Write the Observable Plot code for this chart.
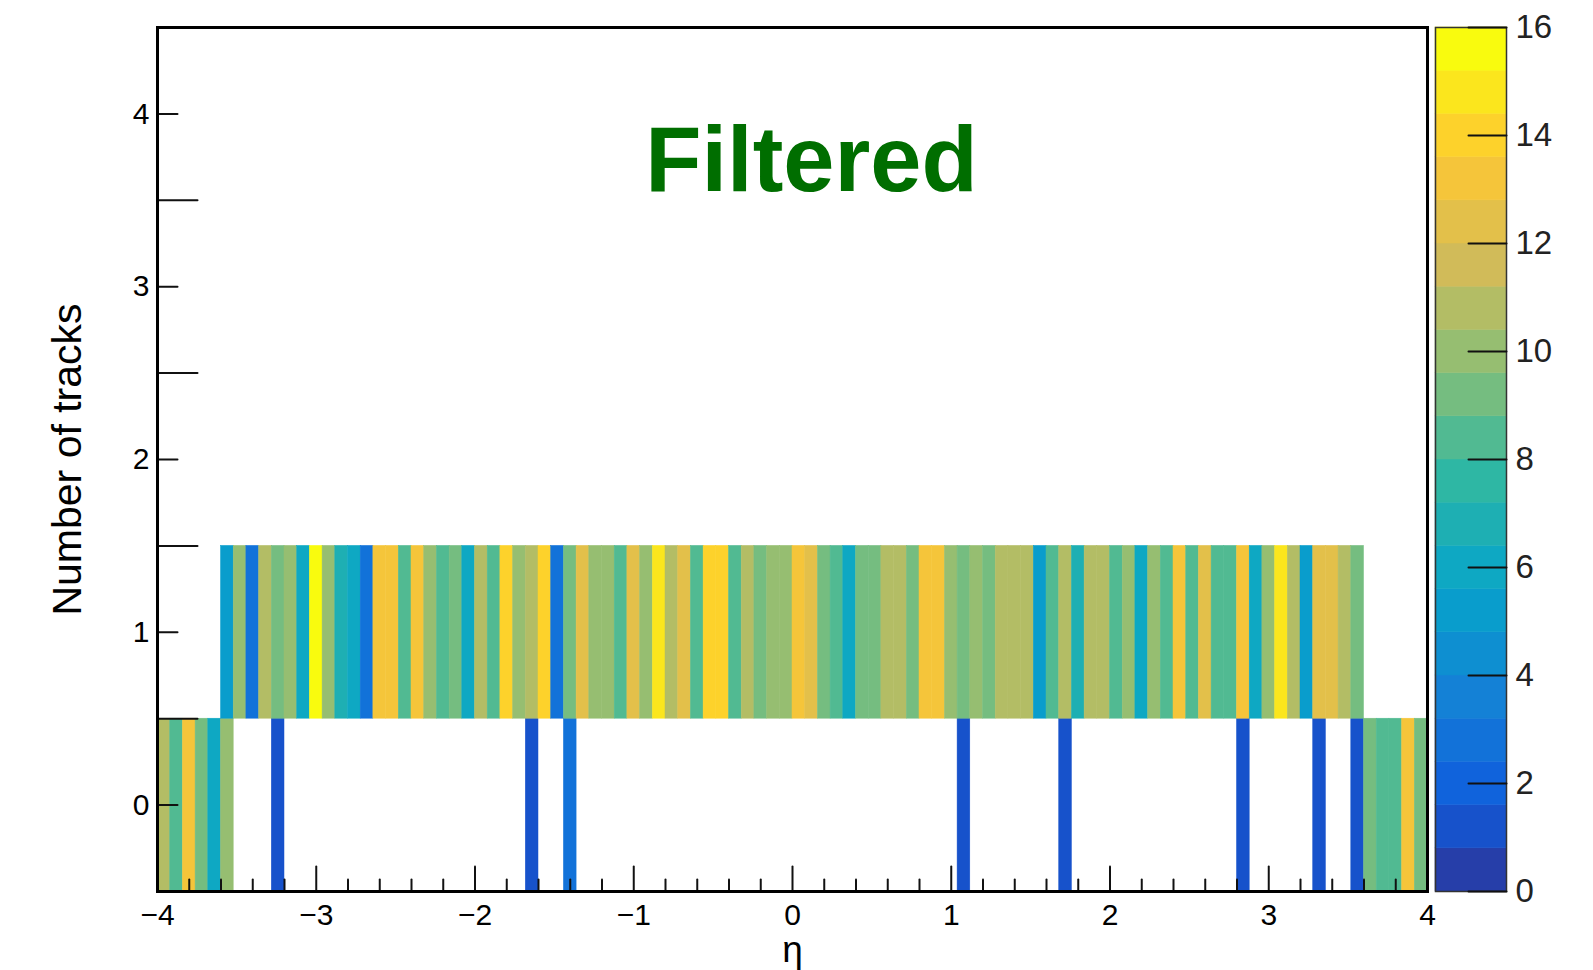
<!DOCTYPE html>
<html>
<head>
<meta charset="utf-8">
<script src="https://cdn.jsdelivr.net/npm/d3@7"></script>
<script src="https://cdn.jsdelivr.net/npm/@observablehq/plot@0.6"></script>
<style>
  html, body { margin: 0; padding: 0; background: #fff; }
  #chart { position: relative; width: 1593px; height: 970px; }
  #chart svg { position: absolute; top: 0; }
</style>
</head>
<body>
<div id="chart"></div>
<script>
// η binning of the 2D histogram: 100 bins over [-4, 4]
const etaMin = -4, etaMax = 4, etaBins = 100;

// Entries per η bin, row "0 tracks"
const countsZeroTracks = [
  11, 8, 13, 9, 6, 10, 0, 0, 0, 1,
   0, 0, 0, 0, 0, 0, 0, 0, 0, 0,
   0, 0, 0, 0, 0, 0, 0, 0, 0, 1,
   0, 0, 3, 0, 0, 0, 0, 0, 0, 0,
   0, 0, 0, 0, 0, 0, 0, 0, 0, 0,
   0, 0, 0, 0, 0, 0, 0, 0, 0, 0,
   0, 0, 0, 1, 0, 0, 0, 0, 0, 0,
   0, 1, 0, 0, 0, 0, 0, 0, 0, 0,
   0, 0, 0, 0, 0, 1, 0, 0, 0, 0,
   0, 1, 0, 0, 1, 9, 8, 8, 13, 9
];

// Entries per η bin, row "1 track"
const countsOneTrack = [
   0, 0, 0, 0, 0, 5, 10, 3, 11, 9,
  10, 6, 16, 10, 7, 6, 3, 13, 13, 8,
  13, 10, 8, 9, 6, 11, 8, 14, 10, 11,
  14, 3, 9, 12, 10, 10, 8, 12, 10, 15,
  11, 12, 8, 14, 14, 8, 11, 9, 10, 10,
  13, 12, 9, 8, 6, 9, 9, 11, 11, 9,
  13, 13, 10, 9, 10, 9, 11, 11, 11, 5,
   8, 11, 7, 11, 11, 8, 10, 6, 10, 8,
  13, 8, 12, 8, 8, 13, 6, 10, 15, 11,
   5, 12, 12, 11, 9, 0, 0, 0, 0, 0
];

// Axis ticks and labels
const xTickLabels = [-4, -3, -2, -1, 0, 1, 2, 3, 4];
const yTickLabels = [0, 1, 2, 3, 4];
const yHalfTicks = [0.5, 1.5, 2.5, 3.5];
const zTickLabels = [0, 2, 4, 6, 8, 10, 12, 14, 16];
const zMax = 16, nContours = 20;

// Text
const titleText = "Filtered";
const xTitle = "η";
const yTitle = "Number of tracks";

// kBird palette stops (ROOT), sampled once per contour band
const birdStops = ["#352a87", "#0f5cdd", "#1481d6", "#06a4ca", "#2eb7a4",
                   "#87bf77", "#d1bb59", "#fec832", "#f9fb0e"];
const bird = d3.piecewise(d3.interpolateRgb, birdStops);
const bandColors = d3.range(nContours).map(i => bird((i + 0.99) / nContours));
const levels = d3.range(nContours + 1).map(i => (zMax * i) / nContours);
const colorScale = {type: "threshold", domain: levels.slice(1, -1), range: bandColors};

// Histogram cells (zero bins are not drawn)
const binWidth = (etaMax - etaMin) / etaBins;
const cells = [];
[countsZeroTracks, countsOneTrack].forEach((counts, n) => {
  counts.forEach((c, i) => {
    if (c > 0) cells.push({eta0: etaMin + i * binWidth, eta1: etaMin + (i + 1) * binWidth, n, count: c});
  });
});
const xMinorTicks = d3.range(-40, 41, 2).map(v => v / 10).filter(v => !Number.isInteger(v));
const bands = d3.range(nContours).map(i => ({lo: levels[i], hi: levels[i + 1]}));

const FONT = "'Liberation Sans', Arial, Helvetica, sans-serif";
const tickShape = {draw(ctx, l) { ctx.moveTo(0, 0); ctx.lineTo(0, -l); }};
const minusFormat = d => (d < 0 ? "\u2212" + (-d) : String(d));
const tickStyle = {anchor: "start", shape: tickShape, stroke: "#111", strokeWidth: 2};

const main = Plot.plot({
  width: 1593, height: 970,
  marginLeft: 157, marginRight: 166, marginTop: 27, marginBottom: 79,
  x: {domain: [etaMin, etaMax]},
  y: {domain: [-0.5, 4.5]},
  color: colorScale,
  style: {fontFamily: FONT, background: "transparent", color: "#000"},
  marks: [
    Plot.rect(cells, {x1: "eta0", x2: "eta1", y1: d => d.n - 0.5, y2: d => d.n + 0.5,
                      fill: "count", stroke: "count", strokeWidth: 0.5}),
    Plot.vector(xMinorTicks, {x: d => d, frameAnchor: "bottom", rotate: 0, length: 12, ...tickStyle}),
    Plot.vector(xTickLabels, {x: d => d, frameAnchor: "bottom", rotate: 0, length: 25, ...tickStyle}),
    Plot.vector(yTickLabels, {y: d => d, frameAnchor: "left", rotate: 90, length: 20, ...tickStyle}),
    Plot.vector(yHalfTicks, {y: d => d, frameAnchor: "left", rotate: 90, length: 40, ...tickStyle}),
    Plot.axisX({ticks: xTickLabels, tickSize: 0, tickPadding: 12, fontSize: 30, tickFormat: minusFormat, label: null}),
    Plot.axisY({ticks: yTickLabels, tickSize: 0, tickPadding: 8, fontSize: 30, tickFormat: minusFormat, label: null}),
    Plot.frame({stroke: "#000", strokeWidth: 3}),
    Plot.text([yTitle], {frameAnchor: "left", textAnchor: "middle", dx: -77, rotate: -90,
                         lineAnchor: "bottom", fontSize: 41}),
    Plot.text([xTitle], {frameAnchor: "bottom", textAnchor: "middle", dy: 70, lineAnchor: "bottom", fontSize: 37}),
    Plot.text([titleText], {frameAnchor: "top", dx: 19, dy: 163, lineAnchor: "bottom",
                            fontSize: 92, fontWeight: "bold", fill: "#006e00"})
  ]
});
main.style.left = "0px";

const bar = Plot.plot({
  width: 161, height: 970,
  marginLeft: 3, marginRight: 87, marginTop: 27, marginBottom: 79,
  x: {domain: [0, 1], axis: null},
  y: {domain: [0, zMax]},
  color: colorScale,
  style: {fontFamily: FONT, background: "transparent", color: "#222"},
  marks: [
    Plot.rect(bands, {x1: 0, x2: 1, y1: "lo", y2: "hi", fill: d => (d.lo + d.hi) / 2,
                      stroke: d => (d.lo + d.hi) / 2, strokeWidth: 0.5}),
    Plot.frame({stroke: "#333", strokeWidth: 1.5}),
    Plot.vector(zTickLabels, {y: d => d, frameAnchor: "right", rotate: -90, length: 38, ...tickStyle}),
    Plot.axisY({anchor: "right", ticks: zTickLabels, tickSize: 0, tickPadding: 9, fontSize: 33, label: null})
  ]
});
bar.style.left = "1432px";

const chart = document.getElementById("chart");
chart.appendChild(main);
chart.appendChild(bar);
</script>
</body>
</html>
